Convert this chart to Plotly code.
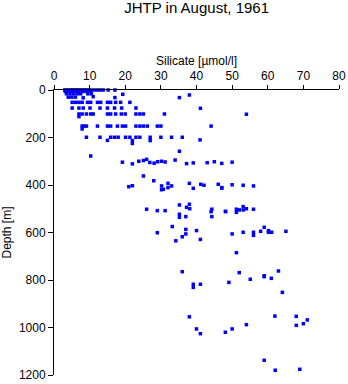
import plotly.graph_objects as go

title_text = "JHTP in August, 1961"
x_title = "Silicate [µmol/l]"
y_title = "Depth [m]"
x_ticks = [0, 10, 20, 30, 40, 50, 60, 70, 80]
y_ticks = [0, 200, 400, 600, 800, 1000, 1200]

# (silicate, depth) pairs
silicate = [
    # surface
    3.0, 3.5, 4.0, 4.5, 5.0, 5.5, 6.0, 6.5, 7.0, 7.5, 8.0, 8.5, 9.0, 9.5, 10.0, 11.0, 12.0, 12.9, 13.8, 15.2, 17.1,
    3.2, 4.2, 5.2, 6.2, 7.2, 8.2, 9.2, 10.2,
    3.5, 4.5, 5.5, 6.5, 7.5, 9.5, 10.5, 19.3, 38.0,
    4.0, 5.0, 6.0, 8.2, 11.0, 17.1, 35.2,
    # 50 m
    5.1, 6.1, 7.0, 7.9, 9.4, 10.3, 12.2, 13.1, 15.0, 15.9, 17.3, 18.7, 21.3,
    # 75 m
    5.1, 7.0, 8.2, 10.1, 12.9, 15.0, 17.0, 19.0, 23.0, 41.1,
    # 100 m
    7.0, 7.9, 9.1, 10.3, 11.0, 15.0, 15.9, 17.3, 18.9, 20.0, 23.0, 24.1, 25.1, 31.0, 54.0, 7.0,
    # 150 m
    7.9, 8.4, 9.1, 12.2, 15.0, 15.9, 17.8, 19.2, 20.1, 23.0, 24.1, 25.1, 26.2, 29.0, 30.0, 44.1, 7.9,
    # 200 m
    9.1, 12.9, 15.9, 17.0, 18.0, 20.1, 21.3, 23.0, 24.1, 27.0, 27.0, 30.0, 33.0, 36.0, 41.0, 15.0, 22.0, 22.0,
    # 250-300 m
    35.2, 10.3,
    19.2, 22.0, 23.8, 25.1, 26.0, 26.9, 28.1, 29.1, 30.2, 31.2, 34.0, 37.2, 39.1, 43.0, 45.0, 47.1, 50.0,
    25.1, 28.0,
    # 400 m
    21.0, 22.0, 30.2, 30.2, 30.7, 32.0, 32.0, 33.0, 38.0, 39.1, 41.2, 42.1, 46.1, 47.1, 47.1, 50.0, 53.1, 56.0,
    # 500 m
    26.0, 29.0, 31.2, 35.2, 38.0, 37.2, 38.1, 35.2, 35.2, 37.0, 44.3, 44.1, 44.3, 48.2, 48.1, 51.2, 51.2, 52.0,
    53.1, 53.1, 54.0, 56.0,
    # 600 m
    33.2, 29.0, 37.0, 40.0, 36.0, 37.0, 34.2, 41.1, 50.0, 53.1, 56.0, 56.0, 58.0, 59.0, 60.2, 60.2, 61.1, 65.1,
    51.2,
    # 800 m
    36.0, 52.0, 49.1, 55.1, 59.0, 59.0, 61.0, 63.0, 64.1, 39.1, 39.1, 41.1,
    # 1000 m
    38.0, 40.0, 41.1, 48.1, 50.0, 54.0, 62.0, 68.0, 71.1, 70.0, 68.0,
    # 1200 m
    59.0, 62.1, 69.0,
]
depth = [
    0, 0, 0, 0, 0, 0, 0, 0, 0, 0, 0, 0, 0, 0, 0, 0, 0, 0, 0, 0, 0,
    6, 6, 6, 6, 6, 6, 6, 6,
    16, 16, 16, 16, 16, 16, 16, 18, 21,
    30, 30, 30, 33, 28, 32, 32,
    52, 52, 52, 52, 52, 52, 52, 52, 52, 52, 52, 52, 52,
    76, 76, 76, 76, 76, 76, 76, 76, 76, 77,
    101, 101, 101, 101, 101, 101, 101, 101, 101, 101, 101, 101, 101, 101, 102, 112,
    152, 152, 152, 152, 152, 152, 152, 152, 152, 152, 152, 152, 152, 152, 152, 152, 164,
    199, 199, 199, 199, 199, 199, 199, 199, 199, 199, 213, 199, 199, 199, 210, 212, 213, 225,
    258, 278,
    304, 311, 300, 297, 292, 305, 308, 302, 300, 303, 295, 310, 307, 306, 302, 309, 304,
    362, 382,
    407, 403, 404, 420, 418, 393, 411, 404, 393, 414, 397, 401, 397, 411, 413, 399, 401, 404,
    502, 508, 508, 484, 481, 494, 500, 523, 536, 533, 502, 512, 533, 512, 511, 502, 515, 505,
    491, 505, 500, 502,
    575, 601, 587, 592, 618, 606, 635, 629, 606, 599, 599, 612, 595, 578, 592, 599, 599, 595,
    685,
    765, 769, 810, 797, 782, 786, 793, 762, 852, 818, 831, 818,
    955, 1006, 1026, 1020, 1006, 988, 952, 953, 968, 984, 991,
    1138, 1180, 1176,
]

font_family = "Liberation Sans, Arial, sans-serif"

fig = go.Figure()
fig.add_trace(go.Scatter(
    x=silicate, y=depth, mode="markers",
    marker=dict(symbol="square", size=3.5, color="#0000ff", line=dict(width=0)),
    cliponaxis=False, showlegend=False,
))

fig.update_layout(
    width=348, height=384,
    margin=dict(l=54, r=9, t=90, b=9, autoexpand=False),
    paper_bgcolor="white", plot_bgcolor="white",
    font=dict(family=font_family, size=12, color="black"),
    title=dict(text=title_text, x=0.565, xanchor="center", yref="container", y=1,
               yanchor="top", pad=dict(t=2), font=dict(size=15, color="black")),
)
fig.update_xaxes(
    range=[0, 80], side="top", tickvals=x_ticks, ticks="outside", ticklen=4,
    tickcolor="black", tickwidth=1, showline=True, linecolor="black", linewidth=1,
    showgrid=False, zeroline=False, tickfont=dict(size=12), automargin=False,
    title=dict(text=x_title, font=dict(size=12), standoff=1),
)
fig.update_yaxes(
    range=[1200, 0], tickvals=y_ticks, ticks="outside", ticklen=5,
    tickcolor="black", tickwidth=1, showline=True, linecolor="black", linewidth=1,
    showgrid=False, zeroline=False, tickfont=dict(size=12), automargin=False,
    title=dict(text=y_title, font=dict(size=12), standoff=6),
)

fig.write_html("out.html")
